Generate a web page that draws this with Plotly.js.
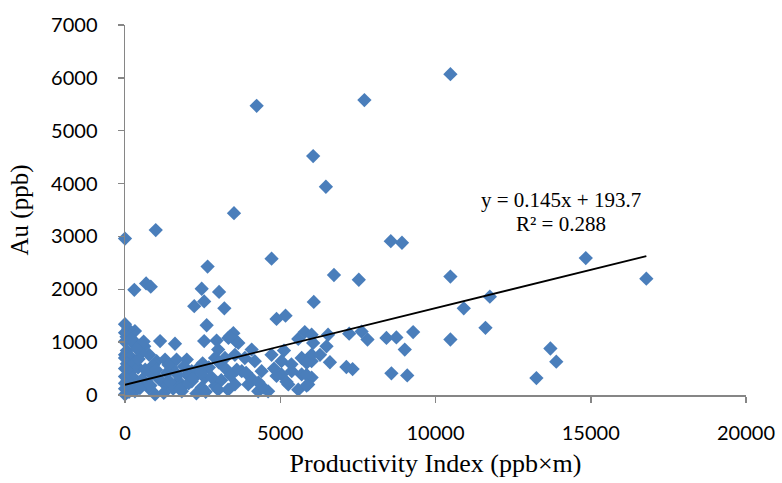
<!DOCTYPE html>
<html>
<head>
<meta charset="utf-8">
<script src="https://cdn.plot.ly/plotly-3.0.1.min.js"></script>
<style>html,body{margin:0;padding:0;background:#fff;}#chart{width:782px;height:483px;}</style>
</head>
<body>
<div id="chart"></div>
<script>
// Productivity Index (ppb×m)
const piValues = [
  10480, 4240, 7710, 6060, 6470, 3510, 990, 0, 4720, 2660,
  8560, 8920, 10480, 6730, 7530, 14840, 16790, 300, 680, 830,
  2470, 3030, 2550, 2230, 3200, 6080, 11750, 10910, 5790, 6540,
  7220, 7620, 7810, 8420, 8740, 9280, 9010, 10480, 11610, 6490,
  7130, 7330, 8580, 9090, 13250, 13700, 13890, 0, 320, 2630,
  4880, 5170, 2550, 2950, 3330, 3490, 3570, 1130, 1610, 620,
  270, 4080, 5120, 5580, 6010, 3650, 3000, 6060, 3380, 1020,
  1290, 1660, 1990, 1500, 2360, 2900, 3220, 3540, 3860, 4180,
  4720, 5040, 5360, 5690, 6010, 3220, 3760, 4400, 5040, 5690,
  6010, 2900, 3320, 3540, 3970, 4290, 4610, 5260, 5580, 5900,
  2570, 2150, 1720, 1290, 750, 320, 0, 110, 0, 320,
  860, 2150, 2470, 1830, 970, 4450, 6010, 6280, 6600, 5850,
  5850, 5850, 4880, 5370, 3020,
  100, 50, 0, 150, 0, 200, 60, 0, 180, 350,
  60, 220, 0, 420, 150, 0, 260, 80, 0, 200,
  420, 0, 130, 560, 700, 480, 650, 780, 520, 900,
  1100, 1350, 1550, 2000, 2300, 2700, 3100, 3600, 4100, 4800,
  5200, 440,
  1250, 1450, 1800, 2050, 2600, 2800, 3400, 3900, 4300, 1700,
  1000, 1400, 2200, 2450, 3000, 380, 600, 820, 1900, 2500
];
// Au (ppb)
const auValues = [
  6070, 5470, 5580, 4520, 3940, 3440, 3120, 2960, 2580, 2430,
  2910, 2880, 2240, 2270, 2180, 2590, 2200, 1990, 2110, 2050,
  2010, 1950, 1770, 1680, 1640, 1760, 1860, 1640, 1190, 1140,
  1160, 1200, 1050, 1080, 1090, 1190, 860, 1050, 1270, 920,
  530, 490, 410, 370, 320, 880, 630, 1340, 1210, 1320,
  1440, 1500, 1020, 1030, 1080, 1170, 1020, 1020, 970, 920,
  1030, 860, 840, 1060, 1140, 985, 860, 985, 1110, 640,
  670, 670, 670, 510, 510, 700, 700, 760, 700, 640,
  760, 640, 580, 700, 640, 510, 450, 450, 390, 390,
  330, 170, 100, 200, 200, 70, 70, 200, 100, 200,
  330, 260, 260, 200, 140, 70, 10, 450, 760, 950,
  390, 450, 140, 70, 10, 140, 760, 760, 620, 610,
  380, 180, 360, 450, 620,
  1250, 1100, 1180, 1120, 1010, 1050, 840, 700, 720, 640,
  590, 560, 500, 520, 420, 350, 330, 280, 220, 180,
  240, 120, 60, 300, 200, 130, 480, 760, 800, 560,
  300, 420, 120, 380, 30, 520, 280, 480, 300, 500,
  250, 680,
  40, 250, 120, 220, 60, 330, 370, 420, 240, 380,
  480, 570, 310, 420, 100, 880, 1010, 180, 540, 600
];
// Linear trend line: y = 0.145x + 193.7, R² = 0.288
const trendSlope = [0.145];
const trendIntercept = [193.7];
const trendR2 = [0.288];

const xMax = Math.max(...piValues);
const fitX = [0, xMax];
const fitY = fitX.map(x => trendSlope[0] * x + trendIntercept[0]);

const axisGrey = '#868686';
const tickFont = {family: 'Lato, "Open Sans", sans-serif', size: 20, color: '#000'};
const serif = '"Liberation Serif", "Times New Roman", serif';

const data = [
  {
    type: 'scatter', mode: 'markers',
    x: piValues, y: auValues,
    marker: {symbol: 'diamond', size: 11, color: '#4A7EBB', line: {width: 0}},
    cliponaxis: false, hoverinfo: 'x+y', showlegend: false
  },
  {
    type: 'scatter', mode: 'lines',
    x: fitX, y: fitY,
    line: {color: '#000', width: 1.8},
    cliponaxis: false, hoverinfo: 'skip', showlegend: false
  }
];

const layout = {
  width: 782, height: 483,
  margin: {l: 125, r: 36, t: 24.5, b: 87.5},
  paper_bgcolor: '#fff', plot_bgcolor: '#fff',
  showlegend: false,
  xaxis: {
    range: [0, 20000], dtick: 5000, tick0: 0, tickformat: 'd',
    showgrid: false, zeroline: false,
    showline: true, linecolor: axisGrey, linewidth: 1.5,
    ticks: 'outside', ticklen: 6, tickwidth: 1.5, tickcolor: axisGrey,
    tickfont: tickFont, ticklabelstandoff: 13,
    title: {text: 'Productivity Index (ppb×m)', font: {family: serif, size: 26, color: '#000'}, standoff: 11}
  },
  yaxis: {
    range: [0, 7000], dtick: 1000, tick0: 0, tickformat: 'd',
    showgrid: false, zeroline: false,
    showline: true, linecolor: axisGrey, linewidth: 1.5,
    ticks: 'outside', ticklen: 6, tickwidth: 1.5, tickcolor: axisGrey,
    tickfont: tickFont, ticklabelstandoff: 16,
    title: {text: 'Au (ppb)', font: {family: serif, size: 25, color: '#000'}, standoff: 15}
  },
  annotations: [
    {
      x: 14030, y: 3689, xref: 'x', yref: 'y', showarrow: false,
      text: 'y = ' + trendSlope[0] + 'x + ' + trendIntercept[0],
      font: {family: serif, size: 21, color: '#000'},
      xanchor: 'center', yanchor: 'middle'
    },
    {
      x: 14030, y: 3236, xref: 'x', yref: 'y', showarrow: false,
      text: 'R² = ' + trendR2[0],
      font: {family: serif, size: 21, color: '#000'},
      xanchor: 'center', yanchor: 'middle'
    }
  ]
};

Plotly.newPlot('chart', data, layout, {displayModeBar: false, staticPlot: true});
</script>
</body>
</html>
